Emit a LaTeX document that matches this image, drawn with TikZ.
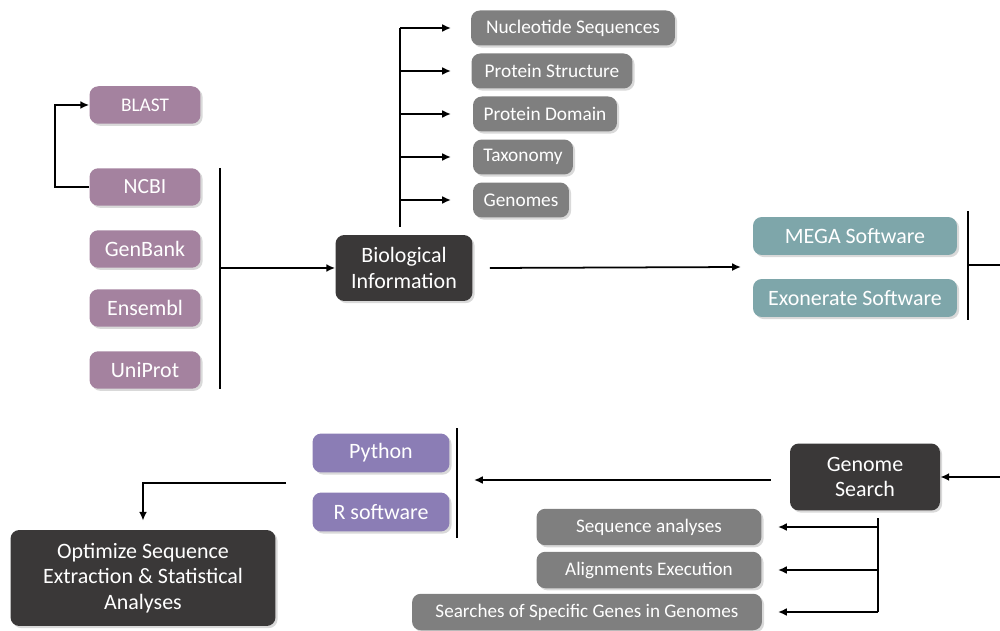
\documentclass[tikz,border=0pt]{standalone}
\usepackage{fontspec}
\setmainfont{Carlito}
\usepackage{xcolor}
\usetikzlibrary{arrows.meta, positioning, calc, shadows}

\definecolor{dbmauve}{HTML}{A4829F}
\definecolor{infogrey}{HTML}{7F7F7F}
\definecolor{darkbox}{HTML}{3A3838}
\definecolor{softteal}{HTML}{7EA6AA}
\definecolor{langviolet}{HTML}{8B7DB5}

\tikzset{
  box/.style={rounded corners=5pt, text=white, align=center, inner sep=2pt,
    drop shadow={opacity=0.3, shadow xshift=1.2pt, shadow yshift=-1.2pt}},
  dbbox/.style={box, fill=dbmauve, minimum width=2.22cm, minimum height=0.75cm, font=\fontsize{12.5}{14}\selectfont},
  infobox/.style={box, fill=infogrey, minimum height=0.70cm, font=\fontsize{11}{12}\selectfont},
  mainbox/.style={box, fill=darkbox, font=\fontsize{12.5}{14.5}\selectfont},
  toolbox/.style={box, fill=softteal, minimum width=4.08cm, minimum height=0.76cm, font=\fontsize{12.5}{14}\selectfont},
  langbox/.style={box, fill=langviolet, minimum width=2.74cm, minimum height=0.78cm, font=\fontsize{12.5}{14}\selectfont},
  taskbox/.style={box, fill=infogrey, minimum height=0.73cm, font=\fontsize{10.9}{12}\selectfont},
  bar/.style={line width=1pt},
  arr/.style={line width=1pt, -{Latex[length=5pt,width=4.5pt]}}
}

\begin{document}
\begin{tikzpicture}[x=0.02cm, y=-0.02cm]
\useasboundingbox (0,0) rectangle (1000,631);

% Databases
\node[dbbox, font=\fontsize{11}{13}\selectfont] (blast) at (145,105) {BLAST};
\node[dbbox, font=\fontsize{12.3}{13}\selectfont] (ncbi) at (145,187) {NCBI};
\node[dbbox] (genbank) at (145,249) {GenBank};
\node[dbbox] (ensembl) at (145,308) {Ensembl};
\node[dbbox] (uniprot) at (145,370) {UniProt};

% Biological information
\node[mainbox, minimum width=2.74cm, minimum height=1.32cm] (bio) at (404,268) {Biological\\Information};

% Kinds of information
\node[infobox, minimum width=4.08cm] (nucseq) at (573,28) {Nucleotide Sequences};
\node[infobox, minimum width=3.22cm] (protstruct) at (552,71) {Protein Structure};
\node[infobox, minimum width=2.88cm] (protdom) at (545,114) {Protein Domain};
\node[infobox, minimum width=2.00cm] (taxonomy) at (523,157) {Taxonomy};
\node[infobox, minimum width=1.92cm] (genomes) at (521,200) {Genomes};

% Software
\node[toolbox] (mega) at (855,236) {MEGA Software};
\node[toolbox] (exonerate) at (855,298) {Exonerate Software};

% Genome search
\node[mainbox, minimum width=3.0cm, minimum height=1.34cm] (gsearch) at (865,477) {Genome\\Search};
\node[taskbox, minimum width=4.5cm] (seqan) at (649,527) {Sequence analyses};
\node[taskbox, minimum width=4.5cm] (align) at (649,570) {Alignments Execution};
\node[taskbox, minimum width=7.0cm] (searches) at (587,612) {Searches of Specific Genes in Genomes};

% Languages
\node[langbox] (python) at (381,453) {Python};
\node[langbox] (rsoft) at (381,512) {R software};

% Final step
\node[mainbox, minimum width=5.3cm, minimum height=1.92cm] (optimize) at (143,578) {Optimize Sequence\\Extraction \& Statistical\\Analyses};

% bus points
\coordinate (srcTop) at (220,168);
\coordinate (srcBot) at (220,389);
\coordinate (infoBus) at (400,227);
\coordinate (infoTip) at (451,0);
\coordinate (toolIn) at (741,267);
\coordinate (toolTop) at (968,211);
\coordinate (toolBot) at (968,320);
\coordinate (toolOut) at (1000,265);
\coordinate (gsIn) at (1000,477);
\coordinate (langTop) at (457,428);
\coordinate (langBot) at (457,538);
\coordinate (optStart) at (286,483);
\coordinate (taskBus) at (878,518);
\coordinate (taskTip) at (778,0);

% NCBI -> BLAST
\draw[arr] (ncbi.west) -- ++(-34,0) |- (blast.west);

% databases -> biological information
\draw[bar] (srcTop) -- (srcBot);
\draw[arr] (srcTop |- bio.west) -- (bio.west);

% biological information -> kinds
\draw[bar] (infoBus) -- (infoBus |- nucseq);
\foreach \n in {nucseq, protstruct, protdom, taxonomy, genomes}
  \draw[arr] (infoBus |- \n.west) -- (infoTip |- \n.west);

% biological information -> software
\draw[arr] ($(bio.east)+(17,0)$) -- (toolIn);
\draw[bar] (toolTop) -- (toolBot);
\draw[bar] (toolTop |- toolOut) -- (toolOut);

% -> genome search
\draw[arr] (gsIn) -- (gsearch.east);
\draw[arr] ($(gsearch.west)+(-19,3)$) -- ($(langTop |- gsearch.west)+(17,3)$);
\draw[bar] (langTop) -- (langBot);

% genome search tasks
\draw[bar] (taskBus) -- (taskBus |- searches);
\foreach \n in {seqan, align, searches}
  \draw[arr] (taskBus |- \n.east) -- (taskTip |- \n.east);

% languages -> final step
\draw[arr] (optStart) -- (optStart -| optimize.north) -- ($(optimize.north)+(0,-9)$);
\end{tikzpicture}
\end{document}
